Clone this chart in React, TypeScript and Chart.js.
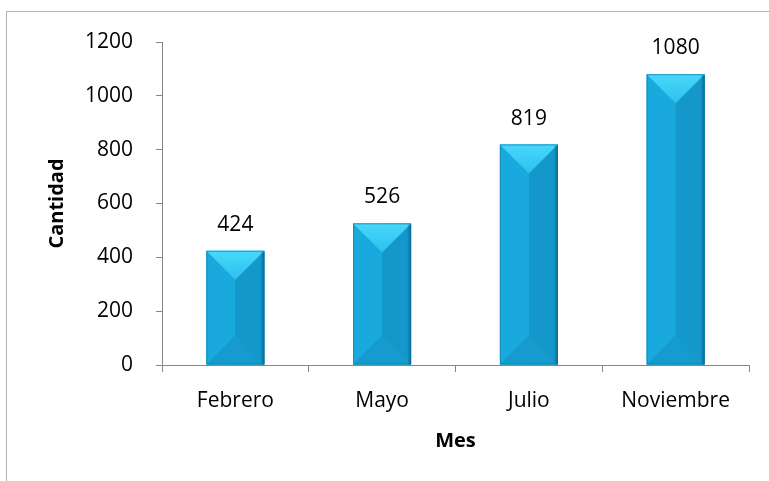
import React, { useEffect, useRef } from "react";
import { Chart, registerables } from "chart.js";

Chart.register(...registerables);

const categories = ["Febrero", "Mayo", "Julio", "Noviembre"];
const cantidad = [424, 526, 819, 1080];
const yTicks = [0, 200, 400, 600, 800, 1000, 1200];
const xTitle = "Mes";
const yTitle = "Cantidad";

const FONT = "'Open Sans', 'Liberation Sans', sans-serif";

const framePlugin = {
  id: "frame",
  beforeDraw(chart: any) {
    const ctx = chart.ctx;
    ctx.save();
    ctx.fillStyle = "#ffffff";
    ctx.fillRect(0, 0, chart.width, chart.height);
    ctx.strokeStyle = "#B3B3B3";
    ctx.lineWidth = 1;
    ctx.strokeRect(6.5, 11.5, chart.width + 20, chart.height + 20);
    ctx.restore();
  },
  afterDraw(chart: any) {
    const ctx = chart.ctx;
    const ys = chart.scales.y;
    const xPix = Math.round(chart.chartArea.left) + 0.5;
    ctx.save();
    ctx.strokeStyle = "#868686";
    ctx.lineWidth = 1;
    ctx.beginPath();
    ctx.moveTo(xPix, ys.getPixelForValue(yTicks[yTicks.length - 1]));
    ctx.lineTo(xPix, ys.getPixelForValue(yTicks[0]) + 7);
    ctx.stroke();
    ctx.restore();
  },
};

const bevelPlugin = {
  id: "bevel",
  afterDatasetsDraw(chart: any) {
    const ctx = chart.ctx;
    const meta = chart.getDatasetMeta(0);
    ctx.save();
    meta.data.forEach((bar: any, i: number) => {
      const { x, y, base, width } = bar.getProps(["x", "y", "base", "width"], true);
      const l = x - width / 2;
      const r = x + width / 2;
      const t = Math.min(y, base);
      const b = Math.max(y, base);
      const h = Math.min(width / 2, (b - t) / 2);
      ctx.fillStyle = "#19A9DD";
      ctx.fillRect(l, t, width / 2, b - t);
      ctx.fillStyle = "#1497CA";
      ctx.fillRect(x, t, width / 2, b - t);
      ctx.fillStyle = "#169BCE";
      ctx.beginPath();
      ctx.moveTo(l, b);
      ctx.lineTo(r, b);
      ctx.lineTo(x, b - h);
      ctx.closePath();
      ctx.fill();
      const g = ctx.createLinearGradient(0, t, 0, t + h);
      g.addColorStop(0, "#48D8FC");
      g.addColorStop(1, "#2CC0EC");
      ctx.fillStyle = g;
      ctx.beginPath();
      ctx.moveTo(l, t);
      ctx.lineTo(r, t);
      ctx.lineTo(x, t + h);
      ctx.closePath();
      ctx.fill();
      const ge = ctx.createLinearGradient(r - 4, 0, r, 0);
      ge.addColorStop(0, "rgba(8,100,140,0)");
      ge.addColorStop(1, "rgba(8,100,140,0.85)");
      ctx.fillStyle = ge;
      ctx.fillRect(r - 4, t + 1, 4, b - t - 1);
      ctx.strokeStyle = "rgba(10,110,150,0.5)";
      ctx.lineWidth = 1;
      ctx.strokeRect(l + 0.5, t + 0.5, width - 1, b - t - 1);
      ctx.fillStyle = "#000000";
      ctx.font = `21px ${FONT}`;
      ctx.textAlign = "center";
      ctx.textBaseline = "middle";
      ctx.fillText(String(cantidad[i]), x, t - 26);
    });
    ctx.restore();
  },
};

export default function App() {
  const ref = useRef<HTMLCanvasElement | null>(null);
  useEffect(() => {
    document.body.style.margin = "0";
    if (!ref.current) return;
    const chart = new Chart(ref.current, {
      type: "bar",
      data: {
        labels: categories,
        datasets: [
          {
            data: cantidad,
            backgroundColor: "#19A9DD",
            categoryPercentage: 1,
            barPercentage: 0.395,
          },
        ],
      },
      options: {
        responsive: true,
        maintainAspectRatio: false,
        animation: false,
        layout: { padding: { left: 0, right: 20, top: 42, bottom: 0 } },
        plugins: {
          legend: { display: false },
          tooltip: { enabled: false },
        },
        scales: {
          x: {
            grid: {
              display: true,
              drawOnChartArea: false,
              drawTicks: true,
              tickLength: 7,
              color: "#868686",
              offset: true,
            },
            border: { display: true, color: "#868686", width: 1 },
            ticks: {
              color: "#000000",
              font: { family: FONT, size: 21 },
              padding: 16,
            },
            title: {
              display: true,
              text: xTitle,
              color: "#000000",
              font: { family: FONT, size: 20, weight: "bold" },
              padding: { top: 0, bottom: 28 },
            },
            afterFit(scale: any) {
              scale.height = 116;
            },
          },
          y: {
            min: 0,
            max: 1200,
            grid: {
              display: true,
              drawOnChartArea: false,
              drawTicks: true,
              tickLength: 6,
              color: "#868686",
            },
            border: { display: true, color: "#868686", width: 1 },
            ticks: {
              color: "#000000",
              font: { family: FONT, size: 21 },
              padding: 23,
              callback: (v: any) => String(v),
            },
            afterBuildTicks(scale: any) {
              scale.ticks = yTicks.map((v) => ({ value: v }));
            },
            title: {
              display: true,
              text: yTitle,
              color: "#000000",
              font: { family: FONT, size: 20, weight: "bold" },
              padding: { top: 45, bottom: 0 },
            },
            afterFit(scale: any) {
              scale.width = 162;
            },
          },
        },
      },
      plugins: [framePlugin, bevelPlugin],
    });
    return () => chart.destroy();
  }, []);
  return (
    <div style={{ position: "absolute", left: 0, top: 0, width: 769, height: 481 }}>
      <canvas ref={ref} />
    </div>
  );
}
